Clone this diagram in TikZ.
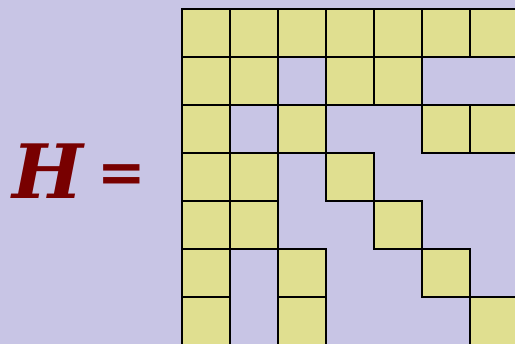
\documentclass[tikz,border=0pt]{standalone}
\usepackage{fontspec}
\newfontfamily\hfont{DejaVu Serif}
\definecolor{bgcol}{HTML}{C8C5E5}
\definecolor{cellcol}{HTML}{E0DF90}
\definecolor{hcol}{HTML}{780000}
\begin{document}
\begin{tikzpicture}[x=1pt,y=-1pt,
  cell/.style={fill=cellcol,draw=black,line width=1.1pt},
  lbl/.style={inner sep=0pt,text=hcol,font=\hfont\bfseries\fontsize{75}{75}\selectfont}]
\useasboundingbox (0,0) rectangle (515,344);
\fill[bgcol] (0,0) rectangle (515,344);
\foreach \r/\c in {0/0,0/1,0/2,0/3,0/4,0/5,0/6,
                   1/0,1/1,1/3,1/4,
                   2/0,2/2,2/5,2/6,
                   3/0,3/1,3/3,
                   4/0,4/1,4/4,
                   5/0,5/2,5/5,
                   6/0,6/2,6/6}
  \draw[cell] ({182+48*\c},{9+48*\r}) rectangle ++(48,48);
\draw[line width=2.4pt] (182,8.4) -- (182,346);
\draw[line width=1.8pt] (181,9) -- (520,9);
\node[lbl,anchor=base west] (H) at (12,199) {\itshape H};
\node[lbl,anchor=center,font=\hfont\bfseries\fontsize{58}{58}\selectfont] (eq) at (122,179) {=};
\end{tikzpicture}
\end{document}
